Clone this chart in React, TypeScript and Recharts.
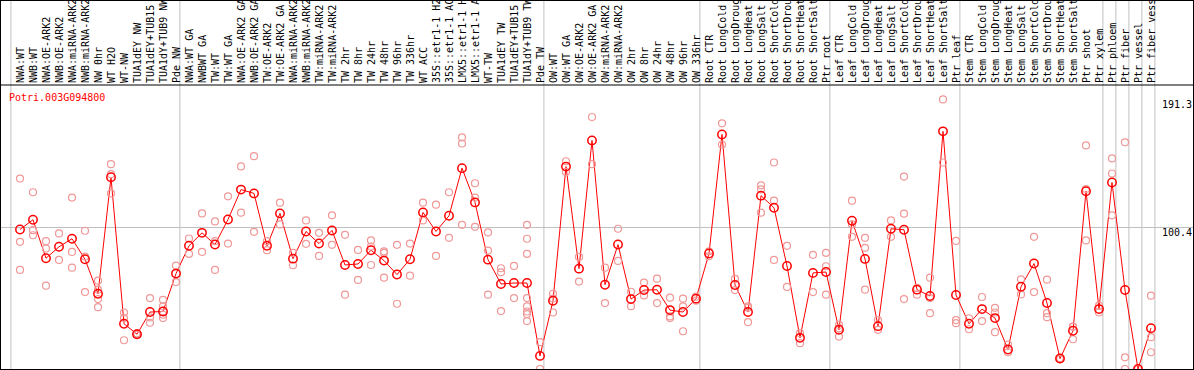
import React from 'react';
import { ComposedChart, Line, Scatter, XAxis, YAxis, ReferenceLine } from 'recharts';

// sample labels, one per column (the chart cuts them to 14 characters)
const categories = [
  'NWA:WT', 'NWB:WT', 'NWA:OE-ARK2', 'NWB:OE-ARK2', 'NWA:miRNA-ARK2', 'NWB:miRNA-ARK2',
  'NW 0hr', 'WT H2O', 'WT-NW', 'TUA1dEY NW', 'TUA1dEY+TUB15 NW', 'TUA1dY+TUB9 NW', 'Pde NW',
  'NWA:WT GA', 'NWBWT GA', 'TW:WT', 'TW:WT GA', 'NWA:OE-ARK2 GA', 'NWB:OE-ARK2 GA',
  'TW:OE-ARK2', 'TW:OE-ARK2 GA', 'NWA:miRNA-ARK2', 'NWB:miRNA-ARK2', 'TW:miRNA-ARK2',
  'TW:miRNA-ARK2', 'TW 2hr', 'TW 8hr', 'TW 24hr', 'TW 48hr', 'TW 96hr', 'TW 336hr',
  'WT ACC', '35S::etr1-1 H2O', '35S::etr1-1 ACC', 'LMX5::etr1-1 H2O', 'LMX5::etr1-1 ACC',
  'WT-TW', 'TUA1dEY TW', 'TUA1dEY+TUB15 TW', 'TUA1dY+TUB9 TW', 'Pde TW',
  'OW:WT', 'OW:WT GA', 'OW:OE-ARK2', 'OW:OE-ARK2 GA', 'OW:miRNA-ARK2', 'OW:miRNA-ARK2',
  'OW 2hr', 'OW 8hr', 'OW 24hr', 'OW 48hr', 'OW 96hr', 'OW 336hr',
  'Root CTR', 'Root LongCold', 'Root LongDrought', 'Root LongHeat', 'Root LongSalt',
  'Root ShortCold', 'Root ShortDrought', 'Root ShortHeat', 'Root ShortSalt', 'Ptr root',
  'Leaf CTR', 'Leaf LongCold', 'Leaf LongDrought', 'Leaf LongHeat', 'Leaf LongSalt',
  'Leaf ShortCold', 'Leaf ShortDrought', 'Leaf ShortHeat', 'Leaf ShortSalt', 'Ptr leaf',
  'Stem CTR', 'Stem LongCold', 'Stem LongDrought', 'Stem LongHeat', 'Stem LongSalt',
  'Stem ShortCold', 'Stem ShortDrought', 'Stem ShortHeat', 'Stem ShortSalt', 'Ptr shoot',
  'Ptr xylem', 'Ptr phloem', 'Ptr fiber', 'Ptr vessel', 'Ptr fiber vessel',
];

// mean expression per sample
const means = [
  99.0, 105.9, 78.6, 86.7, 92.4, 77.9, 53.4, 136.0, 32.1, 24.7, 40.4, 40.8, 67.7,
  87.4, 96.6, 88.3, 106.1, 127.3, 124.6, 87.4, 110.4, 78.3, 97.6, 89.0, 98.3, 73.8,
  74.5, 84.3, 76.9, 67.0, 77.9, 111.1, 97.6, 108.7, 142.5, 118.2, 77.6, 60.3, 61.0,
  61.0, 9.3,
  48.4, 143.6, 71.2, 162.2, 59.8, 88.3, 49.6, 56.0, 56.2, 41.8, 40.4, 49.9,
  81.9, 166.4, 59.6, 40.4, 123.0, 114.4, 73.1, 22.1, 68.2, 68.8,
  27.8, 105.2, 78.1, 30.4, 99.5, 98.8, 56.3, 51.8, 168.6, 52.5,
  32.1, 42.5, 36.1, 13.8, 58.4, 74.8, 46.8, 7.4, 27.1, 126.1, 42.5,
  132.3, 56.0, 0, 29.0,
];

// individual replicates per sample
const replicates: number[][] = [
  [135.1, 90.2, 70.3], [125.4, 98.5, 94.9], [90.7, 85.5, 59.1], [96.2, 77.4],
  [121.6, 83.1, 71.9], [98.1, 79.8, 54.6], [62.7, 56.3, 49.6, 43.9], [145.3, 138.2, 124.6],
  [40.1, 36.1, 20.4], [25.3, 24.2, 24.6], [50.3, 36.6, 32.8], [49.1, 44.4, 38.5, 36.1],
  [73.4, 61.7],
  [92.6, 81.7], [110.4, 83.1], [104.7, 90.7, 70.3], [122.5, 89.0], [143.7, 110.9],
  [151.0, 97.3], [90.7, 84.3], [118.0, 102.6], [82.4, 73.6], [105.4, 88.8], [96.6, 80.2],
  [109.0, 88.1], [95.2, 52.7], [84.5, 63.2], [91.2, 86.9, 73.8], [82.4, 83.5, 64.8],
  [88.1, 46.3], [89.0, 66.2], [118.0, 105.4], [116.6, 80.2], [125.4, 93.1],
  [164.3, 160.0, 102.3], [131.8, 121.6, 100.9], [96.9, 84.0, 52.7], [71.5, 68.6, 41.1],
  [73.1, 50.3], [102.3, 92.4, 81.7, 50.3, 44.4, 40.8, 39.0, 34.0], [19.0, 0],
  [53.4, 50.0, 40.1], [147.4, 139.8], [79.5, 62.0], [178.8, 145.3], [71.9, 46.8],
  [99.5, 76.7], [54.8, 44.6], [61.3, 52.2], [64.1, 46.8], [50.6, 37.3, 36.1],
  [49.9, 44.4, 26.8], [51.3, 48.5],
  [83.5, 80.0], [174.3, 159.3], [63.9, 56.0], [44.4, 43.5, 33.3], [130.3, 127.5, 110.9],
  [146.5, 119.4, 77.4], [87.4, 58.2], [25.4, 18.3], [81.0, 54.6], [82.4, 72.9, 52.7],
  [31.3, 29.0, 23.0], [119.4, 102.6, 93.8], [93.1, 86.0, 56.3], [34.7, 27.8],
  [105.4, 93.8], [136.5, 110.2, 49.6], [57.5, 52.7], [64.8, 50.3, 39.6], [191.3, 146.5],
  [90.9, 34.7, 32.5],
  [36.0, 28.2], [51.1, 34.0], [43.4, 40.1, 26.1], [17.3, 11.9], [63.6, 52.9], [93.8, 54.6],
  [63.4, 39.6, 36.8], [7.8, 7.0], [30.1, 30.0, 21.1], [158.6, 127.7, 91.2], [44.9, 40.1],
  [149.4, 138.7, 109.0], [160.8, 8.3, 0], [0, 0], [52.0, 22.6, 11.9],
];

// last sample index of each group (-1 = left edge)
const groupEnds = [-1, 12, 40, 52, 62, 72, 83, 84, 85, 86, 87];
const yTicks = [0, 100.4, 191.3];
const title = 'Potri.003G094800';

const W = 1194;
const H = 370;
const FONT = '"DejaVu Sans Mono", "Liberation Mono", monospace';
const RED = '#ff0000';
const PINK = '#f09898';
const GRID = '#c0c0c0';

const meanData = means.map((m, i) => ({ x: i, mean: m }));
const repData = replicates.flatMap((vals, i) => vals.map(v => ({ x: i, rep: v })));
const xTicks = categories.map((_, i) => i);

const CategoryTick = (props: any) => {
  const { x, payload } = props;
  return (
    <text
      transform={`translate(${x + 3.5},83) rotate(-90)`}
      textAnchor="start"
      fontFamily={FONT}
      fontSize={10}
      fill="#000"
    >
      {categories[payload.value].slice(0, 14)}
    </text>
  );
};

const ValueTick = (props: any) => {
  const { y, payload } = props;
  const bottom = payload.value === 0;
  return (
    <text
      x={1162}
      y={bottom ? y - 5 : y + 9}
      textAnchor="start"
      fontFamily={FONT}
      fontSize={10}
      fill="#000"
    >
      {String(payload.value)}
    </text>
  );
};

const RepDot = (props: any) => (
  <circle cx={props.cx} cy={props.cy} r={3.5} fill="none" stroke={PINK} strokeWidth={1.2} />
);

const MeanDot = (props: any) => {
  const { cx, cy } = props;
  if (cx == null || cy == null) return null;
  return <circle key={props.index} cx={cx} cy={cy} r={4.2} fill="none" stroke={RED} strokeWidth={1.5} />;
};

const GroupLine = (props: any) => (
  <line x1={props.x1} x2={props.x2} y1={0} y2={Math.max(props.y1, props.y2)} stroke={GRID} strokeWidth={1} />
);

export default function App() {
  const x0 = -19 / 13;
  return (
    <div style={{ position: 'absolute', left: 0, top: 0, width: W, height: H, background: '#fff' }}>
      <ComposedChart
        width={W}
        height={H}
        data={meanData}
        margin={{ top: 0, right: 1, bottom: 1, left: 1 }}
      >
        <XAxis
          type="number"
          dataKey="x"
          orientation="top"
          height={85}
          domain={[x0, x0 + 1192 / 13]}
          allowDataOverflow
          ticks={xTicks}
          interval={0}
          tick={<CategoryTick />}
          tickLine={false}
          axisLine={{ stroke: '#000' }}
        />
        <YAxis
          orientation="right"
          mirror
          domain={[0, 201.5]}
          allowDataOverflow
          ticks={yTicks}
          tick={<ValueTick />}
          axisLine={false}
          tickLine={false}
        />
        <ReferenceLine y={100.4} stroke={GRID} strokeWidth={1} />
        {groupEnds.map(e => (
          <ReferenceLine key={e} x={e + 0.3} shape={<GroupLine />} />
        ))}
        <Scatter data={repData} dataKey="rep" shape={<RepDot />} isAnimationActive={false} />
        <Line
          type="linear"
          dataKey="mean"
          stroke={RED}
          strokeWidth={1}
          dot={<MeanDot />}
          activeDot={false}
          isAnimationActive={false}
        />
      </ComposedChart>
      <svg
        width={W}
        height={H}
        style={{ position: 'absolute', left: 0, top: 0, pointerEvents: 'none' }}
      >
        <rect x={0.5} y={0.5} width={W - 1} height={H - 1} fill="none" stroke="#000" />
        <text x={9} y={101} fontFamily={FONT} fontSize={10} fill={RED}>
          {title}
        </text>
      </svg>
    </div>
  );
}
